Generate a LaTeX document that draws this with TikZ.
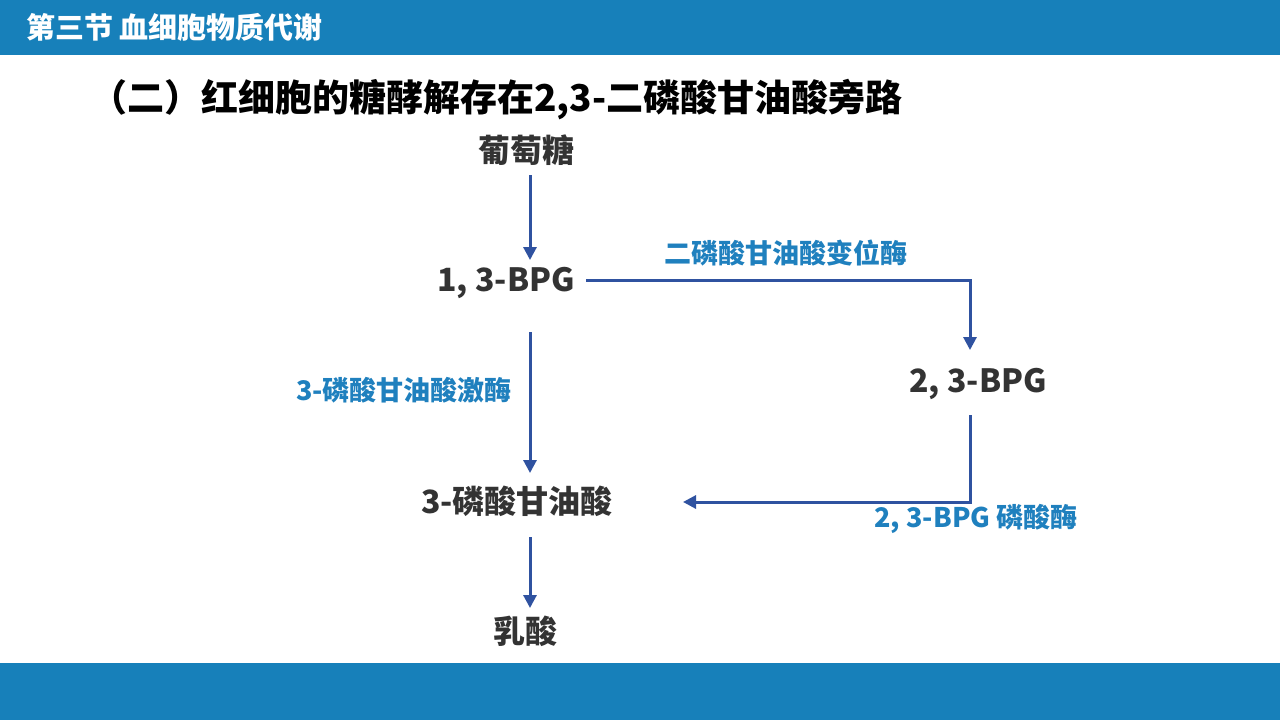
\documentclass[tikz,border=0pt]{standalone}
\usepackage{fontspec}
\setmainfont{Noto Sans CJK SC}
\usetikzlibrary{arrows.meta}
\definecolor{barblue}{HTML}{1780BA}
\definecolor{arrblue}{HTML}{2F52A0}
\definecolor{lblblue}{HTML}{1F80BE}
\definecolor{darktxt}{HTML}{333333}
\tikzset{
  chem/.style={font=\fontsize{32}{36}\selectfont\bfseries, text=darktxt, inner sep=0pt, anchor=center},
  enz/.style={font=\fontsize{27}{31}\selectfont\bfseries, text=lblblue, inner sep=0pt, anchor=center},
  arr/.style={draw=arrblue, line width=3pt, -{Triangle[width=13pt,length=13pt]}},
}
\begin{document}
\begin{tikzpicture}[x=1pt,y=-1pt]
\useasboundingbox (0,0) rectangle (1280,720);
\fill[white] (0,0) rectangle (1280,720);
\fill[barblue] (0,0) rectangle (1280,55);
\fill[barblue] (0,663) rectangle (1280,720);
\node[anchor=west, text=white, font=\fontsize{29}{33}\selectfont\bfseries, inner sep=0pt] (hdr) at (26,27) {第三节 血细胞物质代谢};
\node[anchor=west, text=black, font=\fontsize{37}{42}\selectfont\bfseries, inner sep=0pt] (ttl) at (90,100) {（二）红细胞的糖酵解存在2,3-二磷酸甘油酸旁路};

\coordinate (axis) at (530,0);
\coordinate (axisR) at (970,0);

\node[chem] (gluc) at (526,150) {葡萄糖};
\node[chem] (bpg13) at (506,283) {1, 3-BPG};
\node[chem] (bpg23) at (978,384) {2, 3-BPG};
\node[chem] (pga) at (517,501) {3-磷酸甘油酸};
\node[chem] (lac) at (525,631) {乳酸};

\node[enz] (mut) at (786,253) {二磷酸甘油酸变位酶};
\node[enz] (kin) at (404,390) {3-磷酸甘油酸激酶};
\node[enz] (pho) at (976,519) {2, 3-BPG 磷酸酶};

\draw[arr] ([yshift=-25pt]gluc.center -| axis) -- ([yshift=23pt]bpg13.center -| axis);
\draw[arr] ([xshift=80pt,yshift=3pt]bpg13.center) -| ([yshift=34pt]bpg23.center -| axisR);
\draw[arr] ([yshift=-49pt]bpg13.center -| axis) -- ([yshift=28pt]pga.center -| axis);
\draw[arr] ([yshift=-31pt]bpg23.center -| axisR) |- ([xshift=166pt,yshift=-1pt]pga.center);
\draw[arr] ([yshift=-36pt]pga.center -| axis) -- ([yshift=23pt]lac.center -| axis);
\end{tikzpicture}
\end{document}
